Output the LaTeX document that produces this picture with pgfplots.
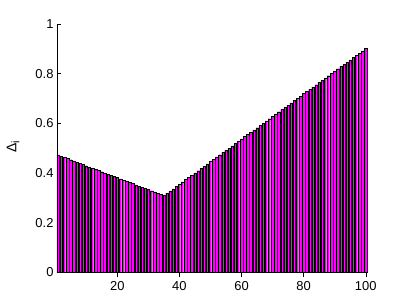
\documentclass[border=0pt]{standalone}
\usepackage{pgfplots}
\pgfplotsset{compat=1.18}
\usepackage{pgfplotstable}
\usepackage{fontspec}
\setmainfont{Liberation Sans}
\definecolor{mag}{RGB}{255,0,255}
\pgfplotstableread{
i v
1 0.473
2 0.468
3 0.463
4 0.459
5 0.454
6 0.449
7 0.444
8 0.439
9 0.435
10 0.430
11 0.425
12 0.420
13 0.415
14 0.411
15 0.406
16 0.401
17 0.396
18 0.391
19 0.387
20 0.382
21 0.377
22 0.372
23 0.367
24 0.363
25 0.358
26 0.353
27 0.348
28 0.343
29 0.339
30 0.334
31 0.329
32 0.324
33 0.319
34 0.315
35 0.310
36 0.319
37 0.328
38 0.337
39 0.346
40 0.356
41 0.365
42 0.374
43 0.383
44 0.392
45 0.401
46 0.410
47 0.419
48 0.428
49 0.437
50 0.447
51 0.456
52 0.465
53 0.474
54 0.483
55 0.492
56 0.501
57 0.510
58 0.519
59 0.528
60 0.538
61 0.547
62 0.556
63 0.565
64 0.574
65 0.583
66 0.592
67 0.601
68 0.610
69 0.619
70 0.629
71 0.638
72 0.647
73 0.656
74 0.665
75 0.674
76 0.683
77 0.692
78 0.701
79 0.710
80 0.720
81 0.729
82 0.738
83 0.747
84 0.756
85 0.765
86 0.774
87 0.783
88 0.792
89 0.801
90 0.811
91 0.820
92 0.829
93 0.838
94 0.847
95 0.856
96 0.865
97 0.874
98 0.883
99 0.892
100 0.902
}\datatable
\begin{document}
\begin{tikzpicture}
\begin{axis}[
  scale only axis,
  width=310bp, height=248.5bp,
  xmin=0.6, xmax=100.4,
  ymin=0, ymax=1,
  axis x line=bottom, axis y line=left,
  axis line style={-, black, line width=0.5pt},
  xtick={20,40,60,80,100},
  ytick={0,0.2,0.4,0.6,0.8,1},
  yticklabels={0,0.2,0.4,0.6,0.8,1},
  tick align=inside,
  major tick length=4bp,
  tick style={black, line width=0.5pt},
  /pgf/number format/assume math mode=true,
  tick label style={font=\fontsize{13}{15}\selectfont},
  xticklabel style={yshift=-1bp},
  ylabel={Δ\textsubscript{\fontsize{11}{13}\selectfont i}},
  ylabel style={font=\fontsize{14}{16}\selectfont, at={(axis description cs:0,0.5)}, anchor=center, yshift=44bp, xshift=2bp},
  ybar=0pt, bar width=0.8,
  clip=false,
]
\addplot[fill=mag, draw=black, line width=0.2pt] table[x=i, y=v] {\datatable};
\end{axis}
\path[use as bounding box] ([xshift=-57bp, yshift=-28.5bp]current axis.origin) rectangle ([xshift=367bp-57bp+28bp, yshift=248.5bp+24bp]current axis.origin);
\end{tikzpicture}
\end{document}
